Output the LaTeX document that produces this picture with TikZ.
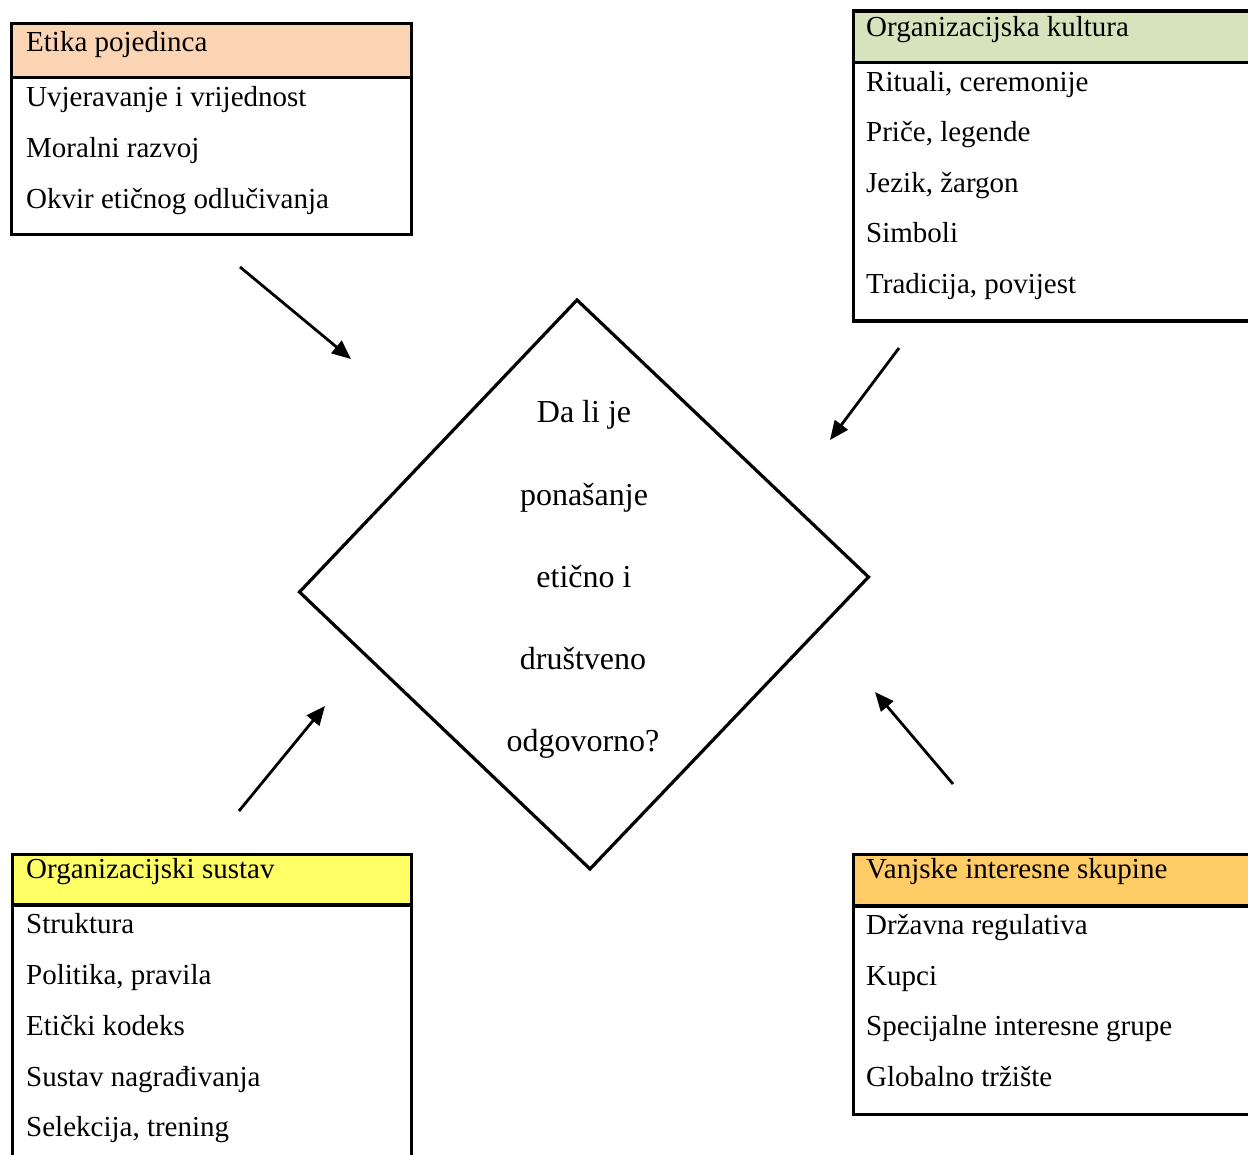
\documentclass[tikz,border=0pt]{standalone}
\usepackage{fontspec}
\setmainfont{Liberation Serif}
\usetikzlibrary{arrows.meta}
\definecolor{hdrpeach}{HTML}{FBD4B4}
\definecolor{hdrgreen}{HTML}{D6E3BC}
\definecolor{hdryellow}{HTML}{FFFF66}
\definecolor{hdrorange}{HTML}{FFCC66}
\begin{document}
\begin{tikzpicture}[x=1pt,y=-1pt,
  outerbox/.style={draw, line width=3.4pt, anchor=north west, inner sep=0pt},
  hdrbox/.style={anchor=north west, inner sep=0pt},
  item/.style={anchor=base west, inner sep=0pt, font=\fontsize{29}{34}\selectfont},
  qtext/.style={anchor=base, inner sep=0pt, font=\fontsize{32}{38}\selectfont},
  sep/.style={line width=3.4pt},
  arr/.style={line width=2.8pt, -{Triangle[length=19pt,width=16pt]}}]
\useasboundingbox (0,0) rectangle (1248,1155);
\clip (0,0) rectangle (1248,1155);
\fill[white] (0,0) rectangle (1248,1155);

% Box 1: Etika pojedinca
\node[hdrbox, fill=hdrpeach, minimum width=400pt, minimum height=55pt] (h1) at (10,22) {};
\node[outerbox, minimum width=400pt, minimum height=211pt] (b1) at (10,22) {};
\draw[sep] (h1.south west) -- (h1.south east);
\node[item] (t10) at (26,52) {Etika pojedinca};
\node[item] (t11) at (26,107) {Uvjeravanje i vrijednost};
\node[item] (t12) at (26,158) {Moralni razvoj};
\node[item] (t13) at (26,209) {Okvir etičnog odlučivanja};

% Box 2: Organizacijska kultura
\node[hdrbox, fill=hdrgreen, minimum width=418pt, minimum height=52.5pt] (h2) at (851.5,9.5) {};
\node[outerbox, minimum width=418pt, minimum height=310pt] (b2) at (851.5,9.5) {};
\draw[sep] (h2.south west) -- (h2.south east);
\node[item] (t20) at (866,37) {Organizacijska kultura};
\node[item] (t21) at (866,92) {Rituali, ceremonije};
\node[item] (t22) at (866,142) {Priče, legende};
\node[item] (t23) at (866,193) {Jezik, žargon};
\node[item] (t24) at (866,243) {Simboli};
\node[item] (t25) at (866,294) {Tradicija, povijest};

% Box 3: Organizacijski sustav
\node[hdrbox, fill=hdryellow, minimum width=398.5pt, minimum height=52pt] (h3) at (11,852.5) {};
\node[outerbox, minimum width=398.5pt, minimum height=330pt] (b3) at (11,852.5) {};
\draw[sep] (h3.south west) -- (h3.south east);
\node[item] (t30) at (26,878) {Organizacijski sustav};
\node[item] (t31) at (26,933) {Struktura};
\node[item] (t32) at (26,984) {Politika, pravila};
\node[item] (t33) at (26,1035) {Etički kodeks};
\node[item] (t34) at (26,1086) {Sustav nagrađivanja};
\node[item] (t35) at (26,1136) {Selekcija, trening};

% Box 4: Vanjske interesne skupine
\node[hdrbox, fill=hdrorange, minimum width=418pt, minimum height=53pt] (h4) at (851.5,852.5) {};
\node[outerbox, minimum width=418pt, minimum height=260pt] (b4) at (851.5,852.5) {};
\draw[sep] (h4.south west) -- (h4.south east);
\node[item] (t40) at (866,878) {Vanjske interesne skupine};
\node[item] (t41) at (866,934) {Državna regulativa};
\node[item] (t42) at (866,985) {Kupci};
\node[item] (t43) at (866,1035) {Specijalne interesne grupe};
\node[item] (t44) at (866,1086) {Globalno tržište};

% Diamond
\coordinate (dt) at (577,300);
\coordinate (dr) at (868.5,577);
\coordinate (db) at (590,869);
\coordinate (dl) at (299.5,592);
\draw[line width=3.2pt, line join=miter] (dt) -- (dr) -- (db) -- (dl) -- cycle;
\node[qtext] (q1) at (584,423) {Da li je};
\node[qtext] (q2) at (584,505) {ponašanje};
\node[qtext] (q3) at (584,587) {etično i};
\node[qtext] (q4) at (583,669) {društveno};
\node[qtext] (q5) at (583,751) {odgovorno?};

% Arrows
\coordinate (a1s) at (240,267);  \coordinate (a1e) at (351,359);
\coordinate (a2s) at (899,348);  \coordinate (a2e) at (830,440);
\coordinate (a3s) at (239,811);  \coordinate (a3e) at (325,706);
\coordinate (a4s) at (953,784);  \coordinate (a4e) at (875,692);
\draw[arr] (a1s) -- (a1e);
\draw[arr] (a2s) -- (a2e);
\draw[arr] (a3s) -- (a3e);
\draw[arr] (a4s) -- (a4e);
\end{tikzpicture}
\end{document}
